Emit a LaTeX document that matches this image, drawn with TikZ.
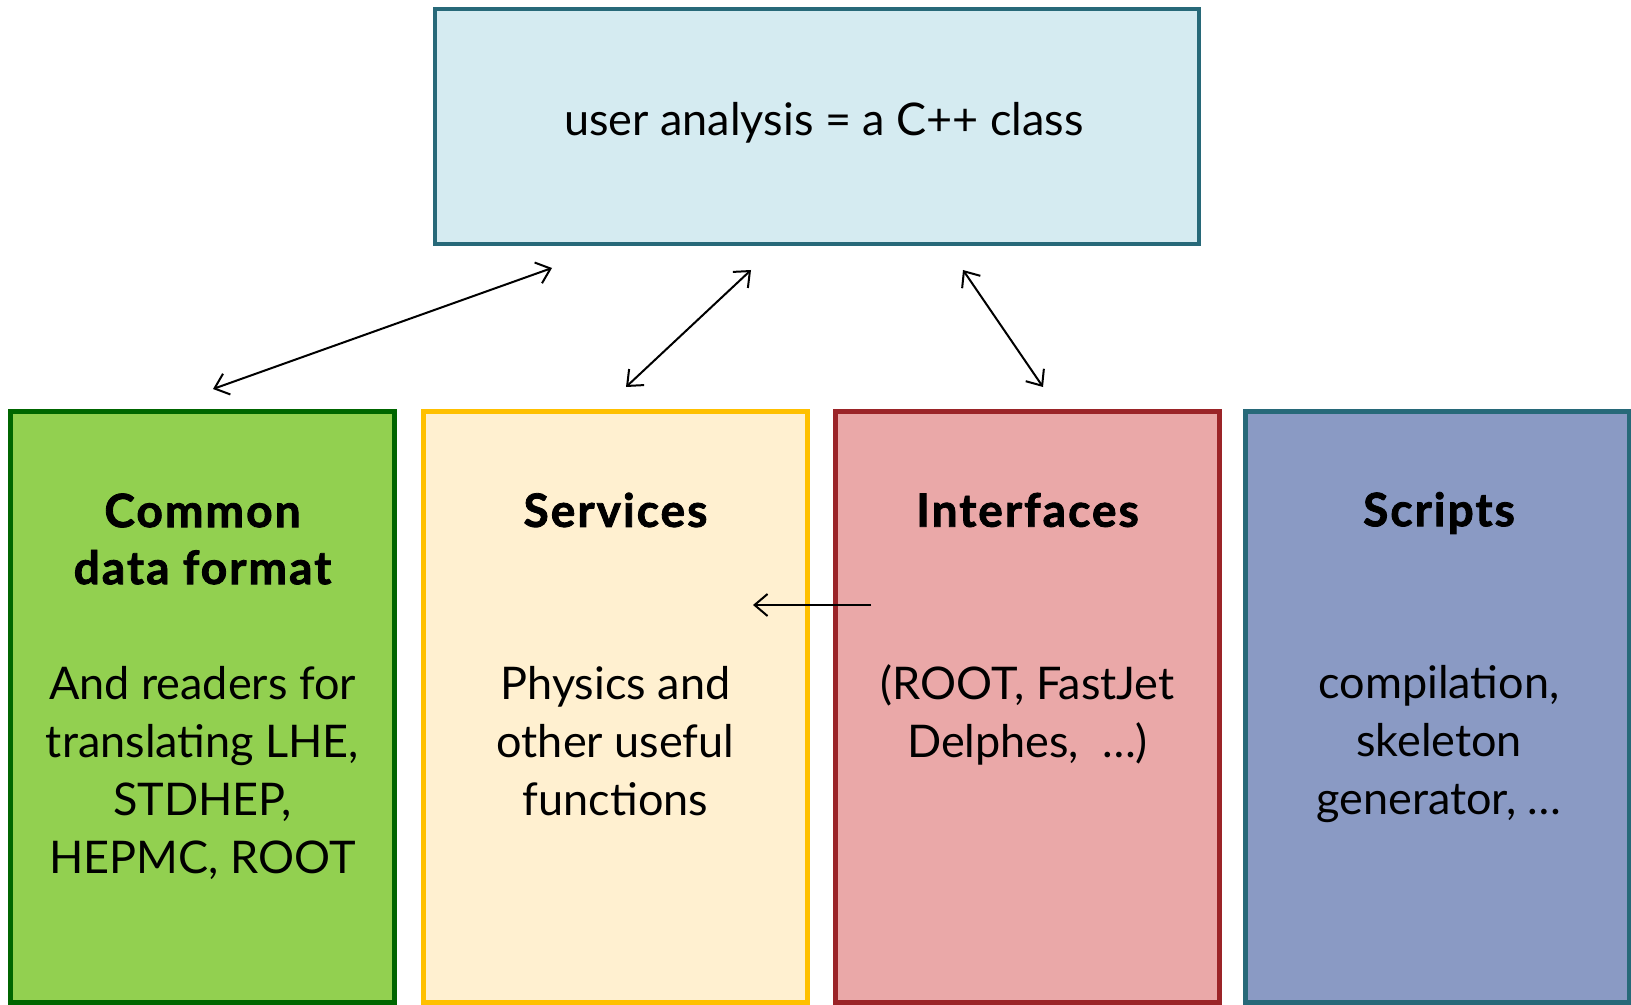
\documentclass[tikz,border=0pt]{standalone}
\usepackage{fontspec}
\setmainfont{Lato}
\newfontfamily\titlefont{Lato}[FakeBold=1.8,LetterSpace=4.5]
\usetikzlibrary{arrows.meta,positioning}

\definecolor{topfill}{HTML}{D5EBF1}
\definecolor{tealline}{HTML}{276979}
\definecolor{greenfill}{HTML}{92D050}
\definecolor{greenline}{HTML}{006600}
\definecolor{yellowfill}{HTML}{FFF0D0}
\definecolor{yellowline}{HTML}{FFC000}
\definecolor{redfill}{HTML}{EAA8A8}
\definecolor{redline}{HTML}{9B2428}
\definecolor{bluefill}{HTML}{8A9AC4}

\begin{document}
\begin{tikzpicture}[x=0.5pt,y=-0.5pt,>={Straight Barb[length=6.5pt,width=11pt]},
	box/.style={draw,line width=2.5pt,minimum width=192pt,minimum height=295.5pt,inner sep=0pt},
	title/.style={align=center,font=\fontsize{23}{28.5}\titlefont\bfseries},
	body/.style={align=center,font=\fontsize{22.5}{29}\selectfont},
	link/.style={<->,line width=1pt}]
	\useasboundingbox (0,0) rectangle (1631,1005);
	\node[draw=tealline,fill=topfill,line width=2pt,minimum width=382pt,minimum height=117.5pt,inner sep=0pt] (user) at (816.5,127) {};
	\node[body] (usertext) at (824,123) {user analysis = a C++ class};
	\node[box,draw=greenline,fill=greenfill] (cdf) at (202.5,707) {};
	\node[box,draw=yellowline,fill=yellowfill] (serv) at (615.5,707) {};
	\node[box,draw=redline,fill=redfill] (intf) at (1027.5,707) {};
	\node[box,draw=tealline,fill=bluefill] (scr) at (1437.5,707) {};
	\node[title] (cdftitle) at (202.5,539) {Common\\data format};
	\node[title] (servtitle) at (615.5,510) {Services};
	\node[title] (intftitle) at (1027.5,510) {Interfaces};
	\node[title] (scrtitle) at (1439,513) {Scripts};
	\node[body] (cdfbody) at (202.5,773) {And readers for\\translating LHE,\\STDHEP,\\HEPMC, ROOT};
	\node[body] (servbody) at (615.5,741) {Physics and\\other useful\\functions};
	\node[body] (intfbody) at (1027.5,715) {(ROOT, FastJet\\Delphes,\ \ \dots)};
	\node[body] (scrbody) at (1439,744.5) {compilation,\\skeleton\\generator, \dots};
	\coordinate (cdfend) at (213,389);
	\coordinate (usera) at (552,268);
	\coordinate (servend) at (626,387);
	\coordinate (userb) at (751,270);
	\coordinate (userc) at (963,270);
	\coordinate (intfend) at (1043,387);
	\coordinate (intfin) at (871,605);
	\coordinate (servin) at (753,605);
	\path[link] (cdfend) edge (usera);
	\path[link] (servend) edge (userb);
	\path[link] (userc) edge (intfend);
	\path[->,line width=1pt] (intfin) edge (servin);
\end{tikzpicture}
\end{document}
